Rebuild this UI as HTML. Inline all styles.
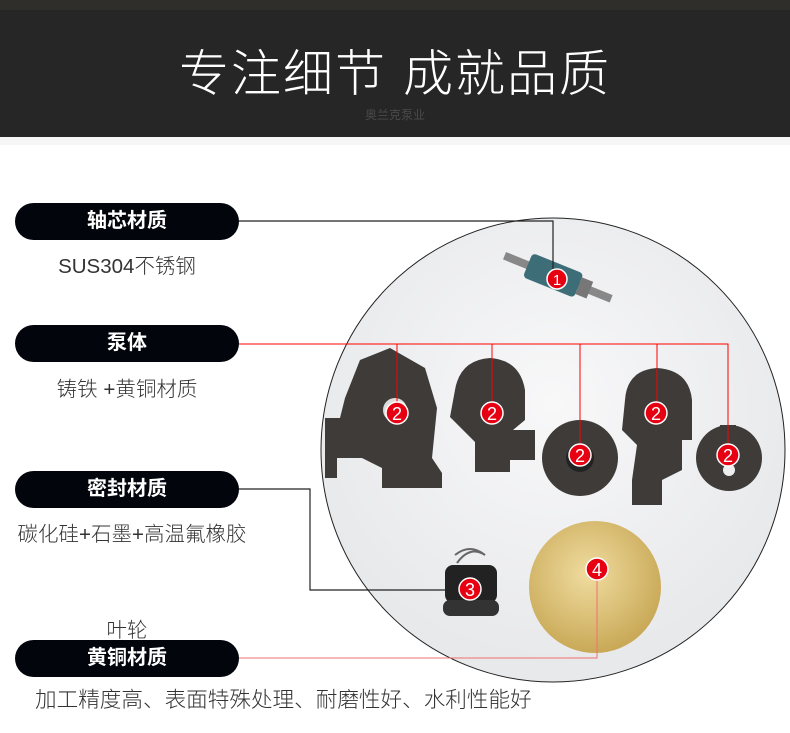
<!DOCTYPE html>
<html><head><meta charset="utf-8"><style>
body{margin:0;width:790px;height:733px;background:#fff;overflow:hidden;position:relative;font-family:"Liberation Sans","Noto Sans CJK SC",sans-serif}
.hdr{position:absolute;left:0;top:0;width:790px;height:137px;background:#262626}
.top{position:absolute;left:0;top:0;width:790px;height:10px;background:#302e2b}
.t{position:absolute;left:0;width:790px;text-align:center;color:#fff}
.pill{position:absolute;left:15px;width:224px;height:37px;border-radius:19px;background:#03050d;color:#fff;font-weight:bold;font-size:20px;line-height:37px;text-align:center}
.d{position:absolute;color:#333;font-size:20.5px;text-align:center;font-weight:300}
</style></head><body>
<div class="hdr"></div><div class="top"></div>
<div style="position:absolute;top:137px;left:0;width:790px;height:8px;background:#f6f6f6"></div>
<div class="t" style="top:34px;font-size:50px;letter-spacing:2px;font-weight:300">专注细节 成就品质</div>
<div class="t" style="top:106px;font-size:12px;color:#4a4a4a">奥兰克泵业</div>
<svg width="790" height="733" style="position:absolute;left:0;top:0">
<defs><radialGradient id="g" cx="50%" cy="40%" r="55%"><stop offset="0" stop-color="#f8f8f9"/><stop offset="1" stop-color="#e8e9eb"/></radialGradient>
<radialGradient id="b" cx="45%" cy="40%" r="60%"><stop offset="0" stop-color="#f0dca0"/><stop offset="1" stop-color="#c9a957"/></radialGradient></defs>
<circle cx="553" cy="450" r="232" fill="url(#g)" stroke="#222" stroke-width="1"/>
<g transform="rotate(22 557 278)"><rect x="500" y="273" width="115" height="8" fill="#888"/><rect x="525" y="264" width="55" height="26" rx="4" fill="#3d6d77"/><rect x="580" y="268" width="12" height="18" fill="#777"/></g>
<g fill="#3e3b39">
<path d="M360 360 l30 -12 l35 20 l12 40 l-5 50 l10 15 v15 h-60 v-20 l-20 -10 h-25 v20 h-12 v-60 h15 l5 -20 z"/>
<circle cx="395" cy="410" r="32"/>
<path d="M455 390 q5 -30 35 -32 q30 2 35 32 v30 l-12 10 h22 v30 h-25 v12 h-35 v-30 l-25 -25 z"/>
<circle cx="580" cy="458" r="38"/>
<path d="M625 400 q2 -30 32 -32 q32 2 35 32 v40 h-10 v30 l-20 10 v25 h-30 v-25 l5 -35 l-15 -15 z"/>
<circle cx="729" cy="458" r="33"/><rect x="720" y="425" width="16" height="10"/>
</g>
<circle cx="395" cy="410" r="12" fill="#ddd"/><circle cx="580" cy="458" r="14" fill="#222"/><circle cx="729" cy="470" r="6" fill="#eee"/>
<rect x="445" y="565" width="52" height="38" rx="8" fill="#222"/><rect x="443" y="600" width="56" height="16" rx="7" fill="#333"/>
<path d="M455 555 q15 -12 30 0 q-15 -10 -28 8" stroke="#666" fill="none" stroke-width="2"/>
<circle cx="595" cy="587" r="66" fill="url(#b)"/>
<g stroke="#ff0000" fill="none" stroke-width="1">
<path d="M239 344 H728 V455 M397 344 V413 M492 344 V413 M580 344 V455 M657 344 V413"/>
<path d="M239 658 H597 V569" stroke="#f07070"/>
</g>
<g stroke="#222" fill="none" stroke-width="1.2"><path d="M239 221 H553 V278"/><path d="M239 489 H310 V590 H470"/></g>
<g fill="#e60012" stroke="#fff" stroke-width="1.5">
<circle cx="557" cy="279" r="10"/><circle cx="397" cy="413" r="11"/><circle cx="492" cy="413" r="11"/><circle cx="580" cy="455" r="11"/><circle cx="656" cy="413" r="11"/><circle cx="728" cy="455" r="11"/><circle cx="470" cy="589" r="11"/><circle cx="597" cy="569" r="11"/>
</g>
<g fill="#fff" font-family="Liberation Sans" font-size="18" text-anchor="middle">
<text x="557" y="285" font-size="15">1</text><text x="397" y="420">2</text><text x="492" y="420">2</text><text x="580" y="462">2</text><text x="656" y="420">2</text><text x="728" y="462">2</text><text x="470" y="596">3</text><text x="597" y="576">4</text>
</g>
</svg>
<div class="pill" style="top:203px">轴芯材质</div>
<div class="d" style="left:15px;width:224px;top:249px">SUS304不锈钢</div>
<div class="pill" style="top:325px">泵体</div>
<div class="d" style="left:15px;width:224px;top:372px">铸铁 +黄铜材质</div>
<div class="pill" style="top:471px">密封材质</div>
<div class="d" style="left:0px;width:264px;top:517px">碳化硅+石墨+高温氟橡胶</div>
<div class="d" style="left:15px;width:224px;top:613px">叶轮</div>
<div class="pill" style="top:640px">黄铜材质</div>
<div class="d" style="left:35px;top:683px;text-align:left;font-size:21.6px">加工精度高、表面特殊处理、耐磨性好、水利性能好</div>
</body></html>
